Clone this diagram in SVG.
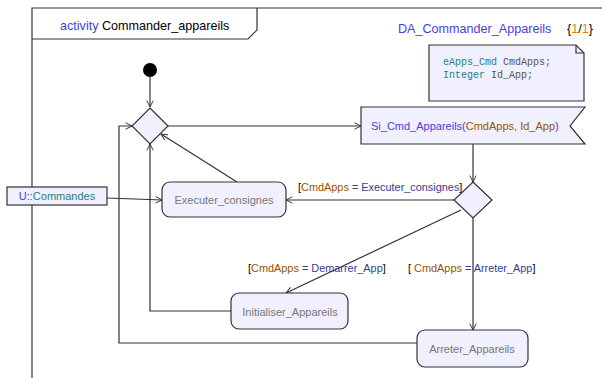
<svg xmlns="http://www.w3.org/2000/svg" width="602" height="378" viewBox="0 0 602 378">
<defs>
<style>
text{font-family:"Liberation Sans",Arial,sans-serif;font-size:11px}
.node{fill:#f0f0fe;stroke:#333;stroke-width:1.2}
.lbl{fill:#777}
.ln{fill:none;stroke:#333;stroke-width:1.2}
.br{fill:#9a5200}
.bl{fill:#3a3a8a}
.pu{fill:#4a3fd0}
.tl{fill:#2a8080}
.ttl{font-size:12.6px}
.grd{font-size:10.9px}
.mono{font-family:"Liberation Mono","Courier New",monospace;font-size:10px;fill:#555}
</style>
<marker id="arr" viewBox="0 0 10 10" refX="9" refY="5" markerWidth="8" markerHeight="8" orient="auto-start-reverse" markerUnits="userSpaceOnUse">
<path d="M1,1 L9,5 L1,9" fill="none" stroke="#333" stroke-width="1.2"/>
</marker>
</defs>
<rect width="602" height="378" fill="#fff"/>
<g id="frame">
<path d="M32,378 V8 H602" class="ln"/>
<path d="M32,39 H248 L257,30 V8" class="ln"/>
<text x="60" y="30" class="ttl"><tspan class="pu">activity</tspan> Commander_appareils</text>
<text x="398" y="33" class="ttl pu">DA_Commander_Appareils</text>
<text x="567" y="33" class="ttl">{<tspan fill="#d08a00">1</tspan>/<tspan fill="#d08a00">1</tspan>}</text>
</g>
<g id="note">
<path d="M429,45 H576 L584,53 V101 H429 Z" class="node"/>
<path d="M576,45 V53 H584" class="ln"/>
<text x="443" y="65" class="mono"><tspan class="tl">eApps_Cmd</tspan> CmdApps;</text>
<text x="443" y="78" class="mono"><tspan class="tl">Integer</tspan> Id_App;</text>
</g>
<g id="connectors">
<path d="M150,77 V107" class="ln" marker-end="url(#arr)"/>
<path d="M168,126 H361" class="ln" marker-end="url(#arr)"/>
<path d="M237,182 L161,134" class="ln" marker-end="url(#arr)"/>
<path d="M107,198 L162,200" class="ln" marker-end="url(#arr)"/>
<path d="M473,144 V182" class="ln" marker-end="url(#arr)"/>
<path d="M454,200 H286" class="ln" marker-end="url(#arr)"/>
<path d="M461,210 L286,293" class="ln" marker-end="url(#arr)"/>
<path d="M473,218 V330" class="ln" marker-end="url(#arr)"/>
<path d="M231,311 H150 V144" class="ln" marker-end="url(#arr)"/>
<path d="M417,343 H119 V126 H132" class="ln" marker-end="url(#arr)"/>
<text x="298" y="191" class="grd">[<tspan class="br">CmdApps</tspan> <tspan class="bl">= Executer_consignes</tspan>]</text>
<text x="248" y="272" class="grd">[<tspan class="br">CmdApps</tspan> <tspan class="bl">= Demarrer_App</tspan>]</text>
<text x="408" y="272" class="grd">[ <tspan class="br">CmdApps</tspan> <tspan class="bl">= Arreter_App</tspan>]</text>
</g>
<g id="start"><circle cx="150" cy="70" r="7" fill="#000"/></g>
<g id="decision1"><path d="M150,108 L168,126 L150,144 L132,126 Z" class="node"/></g>
<g id="decision2"><path d="M473,182 L492,200 L473,218 L454,200 Z" class="node"/></g>
<g id="si_cmd">
<path d="M361,107 H585 L570,126 L585,144 H361 Z" class="node"/>
<text x="371" y="130"><tspan class="pu">Si_Cmd_Appareils(</tspan><tspan class="br">CmdApps, Id_App</tspan><tspan class="pu">)</tspan></text>
</g>
<g id="commandes">
<rect x="7" y="187" width="100" height="18" class="node"/>
<text x="57" y="200" text-anchor="middle"><tspan class="pu">U::</tspan><tspan class="tl">Commandes</tspan></text>
</g>
<g id="executer">
<rect x="162" y="182" width="124" height="35" rx="8" class="node"/>
<text x="224" y="204" text-anchor="middle" class="lbl">Executer_consignes</text>
</g>
<g id="initialiser">
<rect x="231" y="293" width="117" height="36" rx="8" class="node"/>
<text x="290" y="316" text-anchor="middle" class="lbl">Initialiser_Appareils</text>
</g>
<g id="arreter">
<rect x="417" y="330" width="111" height="37" rx="8" class="node"/>
<text x="472" y="353" text-anchor="middle" class="lbl">Arreter_Appareils</text>
</g>
</svg>
